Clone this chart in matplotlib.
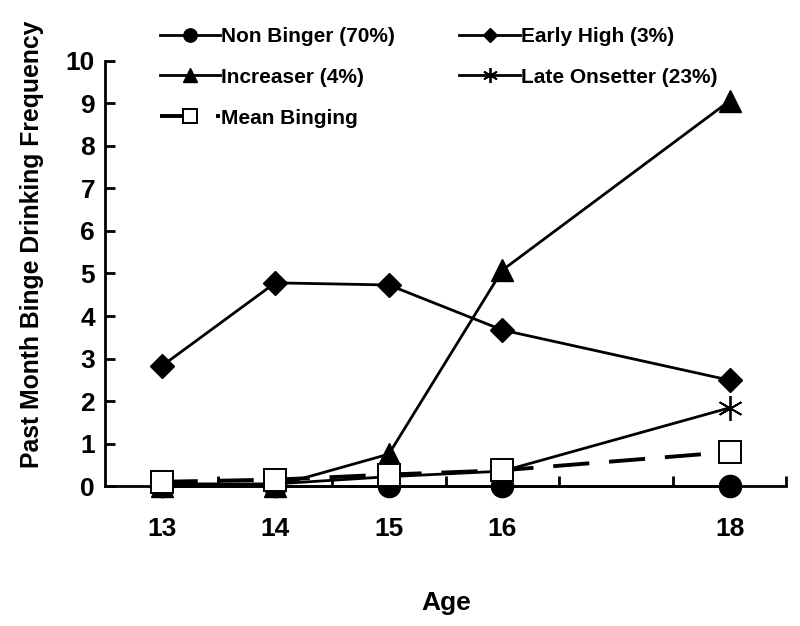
import matplotlib
matplotlib.use("Agg")
import matplotlib.pyplot as plt
from matplotlib.ticker import FixedLocator

plt.rcParams["font.family"] = ["Liberation Sans", "DejaVu Sans"]
plt.rcParams["font.weight"] = "bold"

# データ
ages = [13, 14, 15, 16, 18]
age_labels = ["13", "14", "15", "16", "18"]
non_binger = [0.0, 0.0, 0.0, 0.0, 0.0]
early_high = [2.82, 4.78, 4.73, 3.67, 2.49]
increaser = [0.0, 0.0, 0.75, 5.08, 9.06]
late_onsetter = [0.05, 0.05, 0.22, 0.35, 1.84]
mean_binging = [0.1, 0.15, 0.27, 0.37, 0.8]

fig = plt.figure(figsize=(8, 6.26), dpi=100)
ax = fig.add_axes([0.131, 0.2236, 0.852, 0.679])

lw = 2.0
l1, = ax.plot(ages, non_binger, color="black", lw=lw, marker="o", ms=16,
              label="Non Binger (70%)", zorder=3, clip_on=False)
l2, = ax.plot(ages, early_high, color="black", lw=lw, marker="D", ms=12,
              label="Early High (3%)", zorder=3, clip_on=False)
l3, = ax.plot(ages, increaser, color="black", lw=lw, marker="^", ms=16,
              label="Increaser (4%)", zorder=3, clip_on=False)
l4, = ax.plot(ages, late_onsetter, color="black", lw=lw, marker=(6, 2, 0), ms=18,
              mew=1.3, label="Late Onsetter (23%)", zorder=3, clip_on=False)
l5, = ax.plot(ages, mean_binging, color="black", lw=2.8, ls=(0, (9.3, 5.1)), marker="s",
              ms=16, mfc="white", mec="black", mew=1.4, label="Mean Binging", zorder=4,
              clip_on=False)

ax.set_xlim(12.5, 18.5)
ax.set_ylim(0, 10)

for s in ["top", "right"]:
    ax.spines[s].set_visible(False)
ax.spines["left"].set_linewidth(2)
ax.spines["bottom"].set_linewidth(2)

ax.set_yticks(range(0, 11))
ax.tick_params(axis="y", direction="in", length=7, width=2, labelsize=19, pad=7)
for t in ax.get_yticklabels():
    t.set_fontweight("bold")

# 目盛りは区切り位置、ラベルはカテゴリ中央
ax.xaxis.set_major_locator(FixedLocator([13.5, 14.5, 15.5, 16.5, 17.5, 18.5]))
ax.set_xticklabels([])
ax.xaxis.set_minor_locator(FixedLocator(ages))
ax.set_xticklabels(age_labels, minor=True)
ax.tick_params(axis="x", which="major", direction="in", length=7, width=2)
ax.tick_params(axis="x", which="minor", length=0, labelsize=19, pad=22)
for t in ax.get_xticklabels(minor=True):
    t.set_fontweight("bold")

fig.text(0.04, 0.609, "Past Month Binge Drinking Frequency", rotation=90,
         ha="center", va="center", fontsize=17.8, fontweight="bold")
fig.text(0.558, 0.037, "Age", ha="center", va="center", fontsize=19, fontweight="bold")

# 行ごとに並べるため順番を入れ替え
leg = fig.legend(handles=[l1, l3, l5, l2, l4], ncol=2, loc="upper left",
                 bbox_to_anchor=(0.176, 0.987), frameon=False, fontsize=15,
                 handlelength=2.9, handletextpad=0.05, columnspacing=3.1,
                 labelspacing=1.05, markerscale=0.6)
for t in leg.get_texts():
    t.set_fontweight("bold")

fig.savefig("out.png", dpi=100)
